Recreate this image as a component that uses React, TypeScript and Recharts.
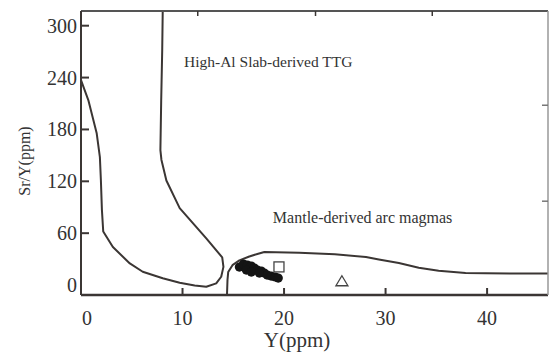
import { ComposedChart, Line, Scatter, XAxis, YAxis, ReferenceDot, Label } from 'recharts'

// axis ticks
const xTicks = [0, 10, 20, 30, 40]
const yTicks = [0, 60, 120, 180, 240, 300]
const topTicks = [11.5, 23.1, 34.6]
const rightTicks = [97, 208]

// field boundaries (Y ppm, Sr/Y)
const slabField = [
  { x: 0, y: 237 }, { x: 0.72, y: 214 }, { x: 1.54, y: 176 }, { x: 1.86, y: 148 },
  { x: 1.96, y: 121 }, { x: 2.06, y: 87 }, { x: 2.19, y: 62 }, { x: 3.14, y: 44 },
  { x: 4.81, y: 25 }, { x: 6.08, y: 15.4 }, { x: 8.05, y: 7.8 }, { x: 9.72, y: 2.7 },
  { x: 11.2, y: -0.5 }, { x: 12.34, y: -2 }, { x: 13.32, y: 2 }, { x: 13.81, y: 9.6 },
  { x: 14.03, y: 21 }, { x: 13.91, y: 32 }, { x: 12.34, y: 54 }, { x: 9.72, y: 89 },
  { x: 8.41, y: 121 }, { x: 7.92, y: 145 }, { x: 7.82, y: 156 }, { x: 7.9, y: 214 },
  { x: 8.0, y: 272 }, { x: 8.05, y: 317 },
]
const mantleField = [
  { x: 14.38, y: -11.5 }, { x: 14.43, y: 6 }, { x: 14.5, y: 15 }, { x: 14.92, y: 23 },
  { x: 15.6, y: 28.5 }, { x: 16.58, y: 33 }, { x: 17.37, y: 36 }, { x: 18.06, y: 38.2 },
  { x: 21.5, y: 37.5 }, { x: 25, y: 35.5 }, { x: 28.07, y: 32.4 }, { x: 29.34, y: 29.5 },
  { x: 31.31, y: 25.5 }, { x: 33.27, y: 20 }, { x: 35.23, y: 16.5 }, { x: 37.88, y: 14 },
  { x: 39.84, y: 13.6 }, { x: 46, y: 13.3 },
]

// samples
const filledSamples = [
  { x: 15.6, y: 20.8 }, { x: 16.0, y: 24.3 }, { x: 16.39, y: 23.1 }, { x: 16.78, y: 22 },
  { x: 16.29, y: 17.3 }, { x: 17.08, y: 19.7 }, { x: 17.37, y: 17.3 }, { x: 17.76, y: 16.2 },
  { x: 18.06, y: 13.9 }, { x: 18.35, y: 11.6 }, { x: 18.74, y: 10.4 }, { x: 19.14, y: 9.3 },
  { x: 19.43, y: 8.1 }, { x: 16.78, y: 15 }, { x: 17.57, y: 13.9 },
]
const squareSamples = [{ x: 19.5, y: 21 }]
const triangleSamples = [{ x: 25.7, y: 5 }]

const ink = '#3b3634'
const serif = '"Liberation Serif", "Times New Roman", serif'

const BottomTick = ({ x, y, payload }: any) => (
  <g>
    {payload.value !== 0 && <line x1={x} x2={x} y1={y} y2={y - 7} stroke={ink} strokeWidth={2} />}
    <text x={x + (payload.value === 0 ? 6 : 0)} y={y + 30} textAnchor="middle" fontSize={20} fontFamily={serif} fill="#333">
      {payload.value}
    </text>
  </g>
)

const LeftTick = ({ x, y, payload }: any) => (
  <g>
    {payload.value !== 0 && <line x1={x} x2={x + 8} y1={y} y2={y} stroke={ink} strokeWidth={2} />}
    <text x={x - 4} y={y + 7} textAnchor="end" fontSize={20} fontFamily={serif} fill="#333">
      {payload.value}
    </text>
  </g>
)

const TopTick = ({ x, y }: any) => <line x1={x} x2={x} y1={y} y2={y + 5} stroke={ink} strokeWidth={1.5} />
const RightTick = ({ x, y }: any) => <line x1={x} x2={x - 6} y1={y} y2={y} stroke="#777" strokeWidth={1.5} />

const Blob = ({ cx, cy }: any) => <circle cx={cx} cy={cy} r={4.6} fill="#141414" />
const Square = ({ cx, cy }: any) => (
  <rect x={cx - 5} y={cy - 5} width={10} height={10} fill="none" stroke="#444" strokeWidth={1.3} />
)
const Triangle = ({ cx, cy }: any) => (
  <polygon points={`${cx},${cy - 5} ${cx + 6},${cy + 5} ${cx - 6},${cy + 5}`} fill="none" stroke="#444" strokeWidth={1.3} />
)

export default function App() {
  return (
    <div style={{ position: 'absolute', left: 0, top: 0, width: 550, height: 357, background: '#fff' }}>
      <ComposedChart width={550} height={357} margin={{ top: 10, right: 1, bottom: 0, left: 0 }}>
        <XAxis
          xAxisId="bottom"
          dataKey="x"
          type="number"
          domain={[0, 46]}
          ticks={xTicks}
          height={62}
          tickSize={0}
          tickMargin={0}
          tickLine={false}
          axisLine={{ stroke: ink, strokeWidth: 2.5 }}
          tick={<BottomTick />}
        >
          <Label
            content={() => (
              <text x={297} y={347} textAnchor="middle" fontSize={21} fontFamily={serif} fill="#333">
                Y(ppm)
              </text>
            )}
          />
        </XAxis>
        <XAxis
          xAxisId="top"
          dataKey="x"
          orientation="top"
          type="number"
          domain={[0, 46]}
          ticks={topTicks}
          height={1}
          tickSize={0}
          tickMargin={0}
          tickLine={false}
          axisLine={{ stroke: '#555', strokeWidth: 2 }}
          tick={<TopTick />}
        />
        <YAxis
          yAxisId="left"
          type="number"
          domain={[-11.5, 317]}
          ticks={yTicks}
          width={81}
          tickSize={0}
          tickMargin={0}
          tickLine={false}
          axisLine={{ stroke: ink, strokeWidth: 2 }}
          tick={<LeftTick />}
        >
          <Label
            content={() => (
              <text
                x={24}
                y={161}
                transform="rotate(-90, 24, 161)"
                textAnchor="middle"
                dominantBaseline="central"
                fontSize={16}
                fontFamily={serif}
                fill="#333"
              >
                Sr/Y(ppm)
              </text>
            )}
          />
        </YAxis>
        <YAxis
          yAxisId="right"
          orientation="right"
          type="number"
          domain={[-11.5, 317]}
          ticks={rightTicks}
          width={1}
          tickSize={0}
          tickMargin={0}
          tickLine={false}
          axisLine={{ stroke: '#999', strokeWidth: 1.5 }}
          tick={<RightTick />}
        />

        <Line
          xAxisId="bottom"
          yAxisId="left"
          data={slabField}
          dataKey="y"
          type="linear"
          stroke={ink}
          strokeWidth={2}
          strokeLinejoin="round"
          dot={false}
          activeDot={false}
          isAnimationActive={false}
        />
        {/* same domains as bottom/left; drawn on the frame axes so they render */}
        <Line
          xAxisId="top"
          yAxisId="right"
          data={mantleField}
          dataKey="y"
          type="linear"
          stroke={ink}
          strokeWidth={2}
          strokeLinejoin="round"
          dot={false}
          activeDot={false}
          isAnimationActive={false}
        />

        <Scatter xAxisId="bottom" yAxisId="left" data={filledSamples} dataKey="y" shape={<Blob />} isAnimationActive={false} />
        <Scatter xAxisId="bottom" yAxisId="left" data={squareSamples} dataKey="y" shape={<Square />} isAnimationActive={false} />
        <Scatter xAxisId="top" yAxisId="right" data={triangleSamples} dataKey="y" shape={<Triangle />} isAnimationActive={false} />

        <ReferenceDot xAxisId="bottom" yAxisId="left" x={10.05} y={259} r={1} fill="none" stroke="none">
          <Label value="High-Al Slab-derived TTG" position="right" offset={0} fontSize={15.5} fontFamily={serif} fill="#333" />
        </ReferenceDot>
        <ReferenceDot xAxisId="bottom" yAxisId="left" x={18.8} y={78.7} r={1} fill="none" stroke="none">
          <Label value="Mantle-derived arc magmas" position="right" offset={0} fontSize={16} fontFamily={serif} fill="#333" />
        </ReferenceDot>
      </ComposedChart>
    </div>
  )
}
